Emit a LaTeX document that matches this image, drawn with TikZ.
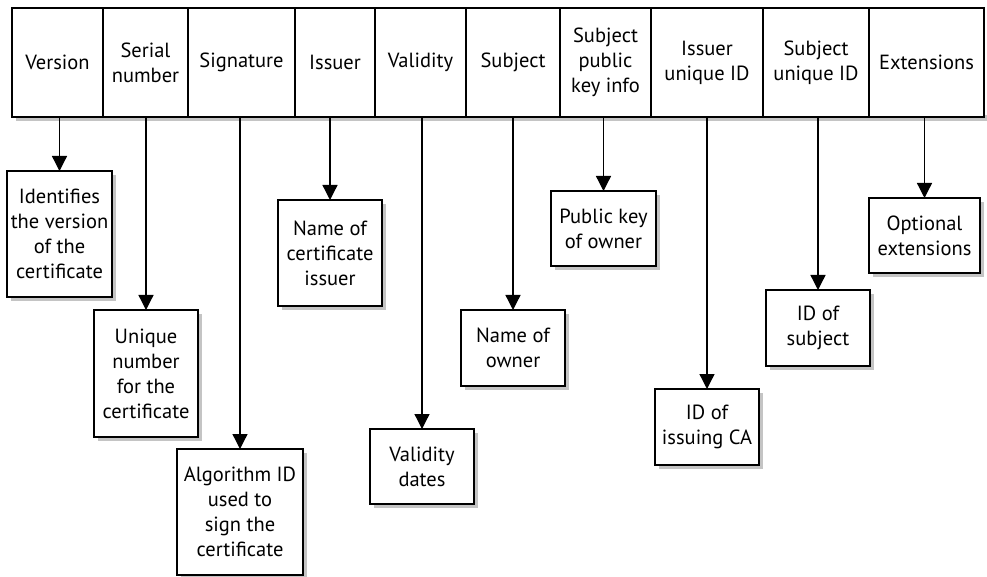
\documentclass[tikz,border=0pt]{standalone}
\usepackage{fontspec}
\setmainfont{PT Sans}
\usetikzlibrary{arrows.meta}
\begin{document}
\begin{tikzpicture}[x=1bp,y=-1bp,
  every node/.style={font=\fontsize{20.5bp}{25bp}\selectfont},
  cell/.style={draw,line width=1.3bp,fill=white,anchor=north west,inner sep=0pt,outer sep=0pt,minimum height=109bp,align=center},
  infobox/.style={draw,line width=1.3bp,fill=white,inner sep=0pt,outer sep=0pt,align=center},
  shadowbox/.style={fill=shadowgray,draw=none},
  arr/.style={line width=1.3bp,-{Triangle[length=15bp,width=15bp]}}
]
\definecolor{shadowgray}{RGB}{196,196,196}
\useasboundingbox (0,0) rectangle (987,577);
% shadows (drawn first, behind the boxes)
\fill[shadowgray] (16,115) rectangle (988,121);
\foreach \xa/\ya/\xb/\yb in {11/175/116/301, 98/314/202/441, 181/453/307/579,
  282/204/386/310, 374/433/478/508, 465/314/569/390, 555/195/660/270,
  659/393/763/469, 770/294/874/370, 873/202/984/277}{
  \fill[shadowgray] (\xa,\ya) rectangle (\xb,\yb);
}
% bar cells
\node[cell,minimum width=91bp] (c1) at (12,8) {Version};
\node[cell,minimum width=85bp] (c2) at (103,8) {Serial\\number};
\node[cell,minimum width=107bp] (c3) at (188,8) {Signature};
\node[cell,minimum width=80bp] (c4) at (295,8) {Issuer};
\node[cell,minimum width=91bp] (c5) at (375,8) {Validity};
\node[cell,minimum width=94bp] (c6) at (466,8) {Subject};
\node[cell,minimum width=91bp] (c7) at (560,8) {Subject\\public\\key info};
\node[cell,minimum width=112bp] (c8) at (651,8) {Issuer\\unique ID};
\node[cell,minimum width=106bp] (c9) at (763,8) {Subject\\unique ID};
\node[cell,minimum width=115bp] (c10) at (869,8) {Extensions};
% info boxes
\node[infobox,minimum width=105bp,minimum height=126bp] (b1) at (59.5,234) {Identifies\\the version\\of the\\certificate};
\node[infobox,minimum width=104bp,minimum height=127bp] (b2) at (146,373.5) {Unique\\number\\for the\\certificate};
\node[infobox,minimum width=126bp,minimum height=126bp] (b3) at (240,512) {Algorithm ID\\used to\\sign the\\certificate};
\node[infobox,minimum width=104bp,minimum height=106bp] (b4) at (330,253) {Name of\\certificate\\issuer};
\node[infobox,minimum width=104bp,minimum height=75bp] (b5) at (422,466.5) {Validity\\dates};
\node[infobox,minimum width=104bp,minimum height=76bp] (b6) at (513,348) {Name of\\owner};
\node[infobox,minimum width=105bp,minimum height=75bp] (b7) at (603.5,228.5) {Public key\\of owner};
\node[infobox,minimum width=104bp,minimum height=76bp] (b8) at (707,427) {ID of\\issuing CA};
\node[infobox,minimum width=104bp,minimum height=76bp] (b9) at (818,328) {ID of\\subject};
\node[infobox,minimum width=111bp,minimum height=75bp] (b10) at (924.5,235.5) {Optional\\extensions};
% arrows
\foreach \i in {1,...,10}{
  \draw[arr] (c\i.south -| b\i.north) -- (b\i.north);
}
\end{tikzpicture}
\end{document}
